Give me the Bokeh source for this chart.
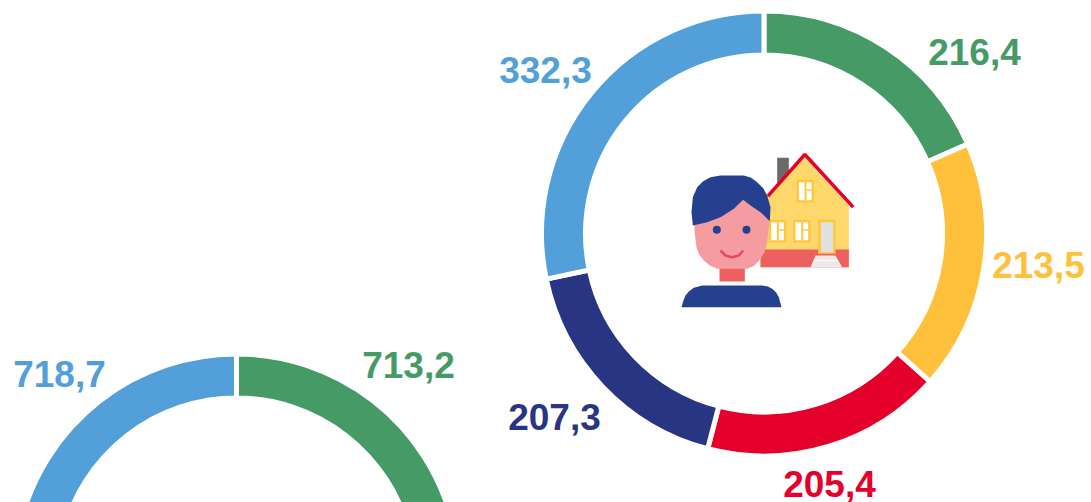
from math import pi
from bokeh.embed import file_html
from bokeh.models import ColumnDataSource, Range1d
from bokeh.plotting import figure
from bokeh.resources import INLINE
from bokeh.core.properties import value

# Right ring: all five shares are readable
right_values = [216.4, 213.5, 205.4, 207.3, 332.3]
right_labels = ["216,4", "213,5", "205,4", "207,3", "332,3"]
right_colors = ["#459A66", "#FFC13B", "#E4002B", "#273582", "#529FD9"]
# Left ring: only two shares are visible, the rest lies below the picture
left_values = [713.2, 718.7]
left_labels = ["713,2", "718,7"]
left_colors = ["#459A66", "#529FD9"]
left_total_estimate = 3400.0

W, H = 1091, 502
p = figure(width=W, height=H, x_range=Range1d(0, W), y_range=Range1d(H, 0),
           output_backend="svg", toolbar_location=None, min_border=0,
           outline_line_color=None, background_fill_color="white",
           border_fill_color="white")
p.axis.visible = False
p.grid.visible = False

GAP = 5
R_OUT, R_IN = 220 + GAP / 2, 181 - GAP / 2


def wedges(cx, cy, starts, ends, colors):
    src = ColumnDataSource(dict(
        x=[cx] * len(starts), y=[cy] * len(starts),
        start=[pi / 2 - e * 2 * pi for e in ends],
        end=[pi / 2 - s * 2 * pi for s in starts],
        color=colors))
    p.annular_wedge("x", "y", inner_radius=R_IN, outer_radius=R_OUT,
                    start_angle="start", end_angle="end", direction="anticlock",
                    fill_color="color", line_color="white", line_width=GAP, source=src)


# right ring
total = sum(right_values)
s, starts, ends = 0.0, [], []
for v in right_values:
    starts.append(s / total)
    s += v
    ends.append(s / total)
wedges(763.5, 233, starts, ends, right_colors)

# left ring
a, b = left_values
wedges(236, 576, [0, 1 - b / left_total_estimate], [a / left_total_estimate, 1], left_colors)

# value labels
label_x = [974, 1038, 829, 554, 545, 408, 59]
label_y = [51.5, 264.5, 483.5, 416.5, 69.5, 364.5, 373.5]
label_text = right_labels + left_labels
label_color = right_colors + left_colors
p.text(label_x, label_y, text=label_text, text_color=label_color,
       text_font=value("Liberation Sans"), text_font_style="bold", text_font_size="37px",
       text_align="center", text_baseline="middle")


# --- centre pictogram (outline coordinates in 3x crop units) ---
def X(v):
    return [660 + i / 3 for i in v]


def Y(v):
    return [140 + i / 3 for i in v]


def poly(xs, ys, c):
    p.patch(X(xs), Y(ys), fill_color=c, line_color=None)


def box(x0, x1, y0, y1, c):
    poly([x0, x1, x1, x0], [y0, y0, y1, y1], c)


YEL, FRAME, BRICK, NAVY = "#FFD76B", "#FFC83C", "#EE6060", "#25408F"
poly([350, 385, 385, 350], [52, 52, 100, 135], "#6A6A6A")
poly([300, 300, 433, 565, 565], [380, 180, 50, 195, 380], YEL)
box(300, 565, 327, 380, BRICK)
p.line(X([322, 433, 578]), Y([167, 42, 200]), line_color="#E4002B", line_width=3.5)
box(473, 525, 238, 340, FRAME)
box(481, 518, 245, 335, "#E0E0E0")
for wx0, wy0 in [(408, 118), (325, 238), (398, 238)]:
    box(wx0, wx0 + 52, wy0, wy0 + 68, FRAME)
    box(wx0 + 7, wx0 + 45, wy0 + 7, wy0 + 61, "white")
    box(wx0 + 24, wx0 + 30, wy0 + 7, wy0 + 61, FRAME)
    box(wx0 + 30, wx0 + 45, wy0 + 28, wy0 + 33, FRAME)
poly([465, 525, 545, 450], [345, 345, 380, 380], "#EAEAEA")
box(460, 532, 358, 362, "#FAFAFA")
box(177, 253, 380, 423, BRICK)
poly([100, 103, 108, 116, 130, 148, 170, 260, 282, 300, 312, 320, 328, 320, 100],
     [230, 280, 320, 342, 360, 375, 385, 385, 375, 355, 335, 305, 230, 160, 160], "#F49CA0")
poly([97, 93, 97, 110, 128, 150, 180, 250, 272, 290, 308, 320, 330, 328, 300, 270, 248, 220, 180, 140],
     [255, 215, 170, 140, 122, 110, 105, 105, 112, 125, 143, 165, 200, 242, 215, 195, 178, 205, 230, 245], NAVY)
p.scatter(X([169, 258]), Y([268, 268]), size=8, fill_color=NAVY, line_color=None)
p.line(X([180, 195, 215, 235, 248]), Y([330, 345, 350, 345, 330]), line_color="#E8476A", line_width=2.5)
poly([63, 68, 75, 86, 100, 125, 305, 322, 335, 347, 355, 363],
     [500, 482, 465, 452, 442, 435, 435, 438, 445, 456, 470, 500], NAVY)

open("out.html", "w").write(file_html(p, INLINE))
